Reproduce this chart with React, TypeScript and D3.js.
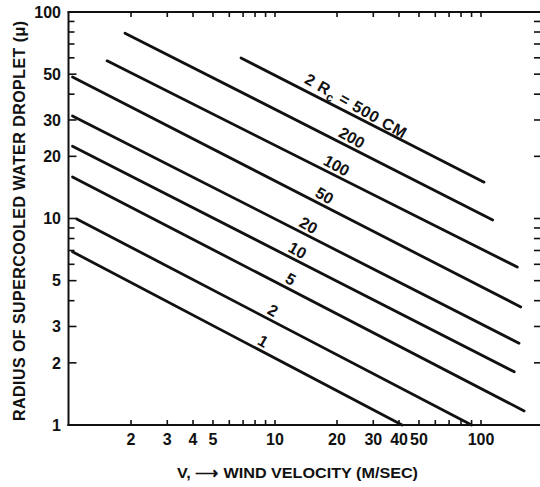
import * as d3 from 'd3';

// Each line: curve for a given obstacle diameter 2Rc (cm).
const DIAMETERS = ['1', '2', '5', '10', '20', '50', '100', '200', '500'];
const V_START = [1.04, 1.09, 1.04, 1.04, 1.04, 1.04, 1.53, 1.87, 6.84];
const R_START = [6.9, 9.95, 15.9, 22.4, 31.4, 48.4, 58, 79, 59.9];
const V_END = [41.4, 90, 162, 145, 153, 156, 150, 114, 103.5];
const R_END = [1, 1, 1.17, 1.81, 2.49, 3.73, 5.82, 9.84, 15.0];
// wind velocity at which each line's label sits
const LABEL_V = [8.3, 9.25, 11.3, 12.2, 13.8, 16.5, 18.9, 22.4, 23.4];

const X_TICK_LABELS = [2, 3, 4, 5, 10, 20, 30, 40, 50, 100];
const Y_TICK_LABELS = [1, 2, 3, 5, 10, 20, 30, 50, 100];

const W = 540;
const H = 487;
const LEFT = 68.5;
const TOP = 12;
const BOTTOM = 425;
const RIGHT = 540;
const FONT = '"Liberation Sans", Arial, sans-serif';

export default function App() {
  const x = d3.scaleLog().domain([1, 100]).range([69, 481]);
  const y = d3.scaleLog().domain([1, 100]).range([BOTTOM, TOP]);
  const xTicks = x.ticks();
  const yTicks = y.ticks();

  const line = d3
    .line<[number, number]>()
    .x((d) => x(d[0]))
    .y((d) => y(d[1]));

  return (
    <div style={{ position: 'absolute', left: 0, top: 0 }}>
      <svg width={W} height={H} style={{ display: 'block', background: '#fff' }} fontFamily={FONT}>
        {/* frame (right edge falls off the page) */}
        <g stroke="#111" strokeWidth={2} fill="none">
          <line x1={LEFT} y1={TOP} x2={LEFT} y2={BOTTOM + 1} />
          <line x1={LEFT - 1} y1={BOTTOM} x2={RIGHT} y2={BOTTOM} />
          <line x1={LEFT - 1} y1={TOP} x2={RIGHT} y2={TOP} />
        </g>

        {/* ticks */}
        <g stroke="#111" strokeWidth={1.6}>
          {xTicks
            .filter((t) => t > 1)
            .map((t) => (
              <g key={'xt' + t}>
                <line x1={x(t)} x2={x(t)} y1={BOTTOM} y2={BOTTOM - 5} />
                <line x1={x(t)} x2={x(t)} y1={TOP} y2={TOP + 5} />
              </g>
            ))}
          {yTicks
            .filter((t) => t > 1 && t < 100)
            .map((t) => (
              <g key={'yt' + t}>
                <line
                  x1={LEFT}
                  x2={LEFT + (Y_TICK_LABELS.includes(t) ? 8 : 6)}
                  y1={y(t)}
                  y2={y(t)}
                />
                <line x1={RIGHT} x2={RIGHT - 6} y1={y(t)} y2={y(t)} />
              </g>
            ))}
        </g>

        {/* tick labels */}
        <g fill="#111" fontWeight="bold" fontSize={16}>
          {X_TICK_LABELS.map((t) => (
            <text key={'xl' + t} x={x(t)} y={445} textAnchor="middle">
              {t}
            </text>
          ))}
          {Y_TICK_LABELS.map((t) => (
            <text key={'yl' + t} x={61} y={y(t)} dy="0.36em" textAnchor="end">
              {t}
            </text>
          ))}
        </g>

        {/* curves */}
        <g stroke="#111" strokeWidth={2.8} fill="none" strokeLinecap="round">
          {DIAMETERS.map((d, i) => (
            <path
              key={'l' + d}
              d={line([
                [V_START[i], R_START[i]],
                [V_END[i], R_END[i]],
              ]) ?? ''}
            />
          ))}
        </g>

        {/* curve labels */}
        <g fill="#111" fontWeight="bold" fontSize={16}>
          {DIAMETERS.map((d, i) => {
            const x0 = x(V_START[i]);
            const y0 = y(R_START[i]);
            const x1 = x(V_END[i]);
            const y1 = y(R_END[i]);
            const ang = (Math.atan2(y1 - y0, x1 - x0) * 180) / Math.PI + 2.5;
            const t = (x(LABEL_V[i]) - x0) / (x1 - x0);
            const px = x0 + t * (x1 - x0);
            const py = y0 + t * (y1 - y0);
            const big = d === '500';
            return (
              <text
                key={'lab' + d}
                transform={`translate(${px},${py}) rotate(${ang})`}
                dy={-4}
                textAnchor="middle"
                textLength={big ? 114 : undefined}
                lengthAdjust={big ? 'spacing' : undefined}
              >
                {big ? (
                  <>
                    {'2 R'}
                    <tspan fontSize={12} dy={4}>
                      c
                    </tspan>
                    <tspan dy={-4}>{' = 500 CM'}</tspan>
                  </>
                ) : (
                  d
                )}
              </text>
            );
          })}
        </g>

        {/* axis titles */}
        <text
          x={177}
          y={478}
          fontWeight="bold"
          fontSize={15}
          fill="#111"
          textLength={241}
          lengthAdjust="spacingAndGlyphs"
        >
          V, ⟶ WIND VELOCITY (M/SEC)
        </text>
        <text
          transform="translate(25,421) rotate(-90)"
          fontWeight="bold"
          fontSize={16}
          fill="#111"
          textLength={400}
          lengthAdjust="spacing"
        >
          RADIUS OF SUPERCOOLED WATER DROPLET (μ)
        </text>
      </svg>
    </div>
  );
}
